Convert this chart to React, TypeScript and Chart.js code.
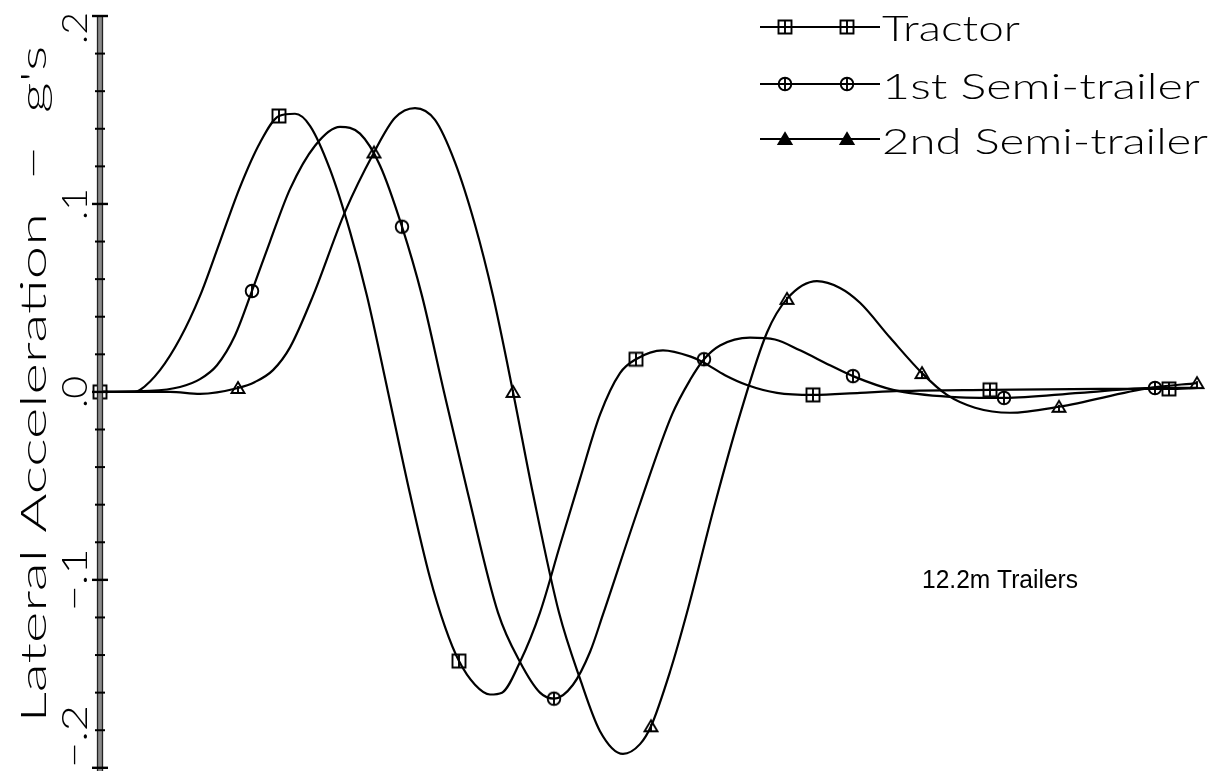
import React, { useEffect, useRef } from 'react';
import { Chart, registerables } from 'chart.js';

Chart.register(...registerables);

// ---------- data ----------
const seriesNames = ['Tractor', '1st Semi-trailer', '2nd Semi-trailer'];

const tractorX = [0, 0.35, 0.4, 0.6, 0.8, 1.0, 1.2, 1.4, 1.6, 1.79, 1.95, 2.1, 2.3, 2.5, 2.67, 2.88, 3.1, 3.3, 3.45, 3.59, 3.75, 3.9, 4.02, 4.2, 4.4, 4.6, 4.8, 5.0, 5.2, 5.36, 5.63, 5.9, 6.03, 6.25, 6.47, 6.77, 7.13, 7.6, 8.0, 8.9, 10.0, 10.69, 10.98];
const tractorY = [0, 0, 0.001, 0.0116, 0.0284, 0.0511, 0.08, 0.109, 0.1326, 0.1468, 0.148, 0.1416, 0.1184, 0.0853, 0.051, 0, -0.0542, -0.0989, -0.125, -0.1432, -0.1558, -0.161, -0.16, -0.1437, -0.1174, -0.0816, -0.0463, -0.0121, 0.01, 0.0174, 0.0221, 0.0189, 0.0158, 0.0089, 0.0037, -0.0005, -0.0016, -0.0005, 0.0005, 0.0011, 0.0016, 0.0016, 0.0021];
const tractorMarkX = [0, 1.79, 3.59, 5.36, 7.13, 8.9, 10.69];

const semi1X = [0, 0.5, 0.8, 1.0, 1.17, 1.35, 1.52, 1.7, 1.9, 2.15, 2.4, 2.6, 2.8, 3.02, 3.22, 3.44, 3.68, 3.98, 4.2, 4.4, 4.54, 4.73, 4.9, 5.03, 5.4, 5.72, 5.9, 6.04, 6.2, 6.5, 6.75, 7.0, 7.3, 7.53, 7.93, 8.5, 9.04, 9.8, 10.55, 10.98];
const semi1Y = [0, 0.0005, 0.0026, 0.0068, 0.0142, 0.03, 0.0537, 0.08, 0.1079, 0.131, 0.141, 0.1374, 0.1205, 0.0879, 0.0511, 0, -0.0542, -0.1174, -0.1437, -0.16, -0.1632, -0.1558, -0.1384, -0.1184, -0.0595, -0.0121, 0.0063, 0.0174, 0.0247, 0.0289, 0.0279, 0.0221, 0.0142, 0.0084, 0.0011, -0.0026, -0.0032, -0.0005, 0.0021, 0.0021];
const semi1MarkX = [1.52, 3.02, 4.54, 6.04, 7.53, 9.04, 10.55];

const semi2X = [0, 0.7, 1.0, 1.38, 1.55, 1.73, 1.9, 2.13, 2.45, 2.74, 2.95, 3.15, 3.35, 3.55, 3.75, 3.93, 4.13, 4.33, 4.59, 4.8, 5.0, 5.23, 5.4, 5.51, 5.7, 5.87, 6.15, 6.4, 6.67, 6.87, 7.17, 7.4, 7.6, 7.9, 8.22, 8.47, 8.75, 9.1, 9.59, 10.5, 10.97];
const semi2Y = [0, 0, -0.001, 0.0021, 0.0053, 0.0116, 0.0237, 0.0511, 0.0958, 0.1274, 0.1458, 0.151, 0.1447, 0.1221, 0.0889, 0.0511, 0, -0.0542, -0.1174, -0.1526, -0.1805, -0.1926, -0.1874, -0.1779, -0.1489, -0.1174, -0.0595, -0.0121, 0.0316, 0.0495, 0.0589, 0.0553, 0.0474, 0.0289, 0.01, -0.0016, -0.0084, -0.0111, -0.0079, 0.0021, 0.0047];
const semi2MarkX = [1.38, 2.74, 4.13, 5.51, 6.87, 8.22, 9.59, 10.97];

const yTickValues = [-0.2, -0.1, 0, 0.1, 0.2];
const yTickLabels = ['\u2212.2', '\u2212.1', '.0', '.1', '.2'];
const yTitle = "Lateral Acceleration  \u2212  g's";
const noteText = '12.2m Trailers';

// ---------- helpers ----------
type Kind = 'square' | 'circle' | 'triangle';

const THIN_FONT = '300 36px Lato, "Open Sans", "DejaVu Sans", sans-serif';

function makeMarker(kind: Kind, filled: boolean): HTMLCanvasElement {
  const c = document.createElement('canvas');
  c.width = 18;
  c.height = 18;
  const g = c.getContext('2d')!;
  g.strokeStyle = '#000';
  g.fillStyle = '#000';
  g.lineWidth = 1.9;
  g.beginPath();
  if (kind === 'square') {
    g.rect(2.5, 2.5, 13, 13);
    g.moveTo(9, 2.5);
    g.lineTo(9, 15.5);
  } else if (kind === 'circle') {
    g.arc(9, 9, 6.3, 0, Math.PI * 2);
    g.moveTo(9, 2.7);
    g.lineTo(9, 15.3);
  } else {
    g.moveTo(9, 3);
    g.lineTo(15.5, 14);
    g.lineTo(2.5, 14);
    g.closePath();
    if (filled) g.fill();
  }
  g.stroke();
  if (kind === 'triangle' && !filled) {
    g.beginPath();
    g.moveTo(9, 7);
    g.lineTo(9, 14);
    g.stroke();
  }
  return c;
}

function drawFit(
  ctx: CanvasRenderingContext2D,
  text: string,
  x: number,
  y: number,
  width: number,
  rotated: boolean,
  align: CanvasTextAlign
) {
  ctx.save();
  ctx.translate(x, y);
  if (rotated) ctx.rotate(-Math.PI / 2);
  const w = ctx.measureText(text).width;
  ctx.scale(width / w, 1);
  ctx.textAlign = align;
  ctx.textBaseline = 'alphabetic';
  ctx.fillText(text, 0, 0);
  ctx.restore();
}

const near = (list: number[], v: number) => list.some((m) => Math.abs(m - v) < 1e-6);

export default function App() {
  const ref = useRef<HTMLCanvasElement | null>(null);

  useEffect(() => {
    const canvas = ref.current;
    if (!canvas) return;

    const markers = {
      square: makeMarker('square', false),
      circle: makeMarker('circle', false),
      triangle: makeMarker('triangle', false),
      triangleFilled: makeMarker('triangle', true),
    };

    const build = (xs: number[], ys: number[]) => xs.map((x, i) => ({ x, y: ys[i] }));
    const specs = [
      { xs: tractorX, ys: tractorY, marks: tractorMarkX, img: markers.square, legendImg: markers.square },
      { xs: semi1X, ys: semi1Y, marks: semi1MarkX, img: markers.circle, legendImg: markers.circle },
      { xs: semi2X, ys: semi2Y, marks: semi2MarkX, img: markers.triangle, legendImg: markers.triangleFilled },
    ];

    const overlay = {
      id: 'overlay',
      afterDatasetsDraw(chart: any) {
        const ctx: CanvasRenderingContext2D = chart.ctx;
        const ys = chart.scales.y;
        const area = chart.chartArea;
        ctx.save();

        // ---- y axis (double line band) ----
        const ax = 100;
        ctx.fillStyle = '#8a8a8a';
        ctx.fillRect(ax - 2.5, area.top, 5, area.bottom - area.top + 10);
        ctx.strokeStyle = '#222';
        ctx.lineWidth = 1.3;
        ctx.beginPath();
        ctx.moveTo(ax - 2.5, area.top);
        ctx.lineTo(ax - 2.5, 800);
        ctx.moveTo(ax + 2.5, area.top);
        ctx.lineTo(ax + 2.5, 800);
        ctx.stroke();

        // ticks every 0.02, major every 0.1
        ctx.strokeStyle = '#000';
        for (let k = -10; k <= 10; k++) {
          const v = k * 0.02;
          const py = ys.getPixelForValue(v);
          if (py < area.top - 1 || py > 771) continue;
          const major = k % 5 === 0;
          ctx.lineWidth = major ? 2.4 : 2;
          ctx.beginPath();
          ctx.moveTo(ax - (major ? 8 : 5), py);
          ctx.lineTo(ax + (major ? 8 : 5), py);
          ctx.stroke();
        }

        // tick labels (rotated)
        ctx.fillStyle = '#000';
        ctx.font = THIN_FONT;
        yTickValues.forEach((v, i) => {
          const label = yTickLabels[i];
          const len = label.length === 2 ? 32 : 63;
          let cy = ys.getPixelForValue(v);
          cy = Math.max(12 + len / 2, Math.min(768 - len / 2, cy));
          drawFit(ctx, label, 87, cy, len, true, 'center');
        });

        // axis title
        ctx.font = THIN_FONT;
        drawFit(ctx, yTitle, 46, 384, 677, true, 'center');

        // ---- legend ----
        const rows = [
          { lineY: 27, baseY: 41, w: 138 },
          { lineY: 84, baseY: 99, w: 318 },
          { lineY: 139, baseY: 154, w: 326 },
        ];
        rows.forEach((r, i) => {
          ctx.strokeStyle = '#000';
          ctx.lineWidth = 2;
          ctx.beginPath();
          ctx.moveTo(760, r.lineY);
          ctx.lineTo(880, r.lineY);
          ctx.stroke();
          const img = specs[i].legendImg;
          [785, 847].forEach((mx) => {
            ctx.drawImage(img, mx - img.width / 2, r.lineY - img.height / 2);
          });
          ctx.fillStyle = '#000';
          ctx.font = THIN_FONT;
          drawFit(ctx, seriesNames[i], 882, r.baseY, r.w, false, 'left');
        });

        // ---- note ----
        ctx.font = '25px "Liberation Sans", Arial, sans-serif';
        ctx.fillStyle = '#000';
        ctx.strokeStyle = '#000';
        ctx.lineWidth = 0.5;
        drawFit(ctx, noteText, 922, 588, 156, false, 'left');

        ctx.restore();
      },
    };

    const chart = new Chart(canvas, {
      type: 'line',
      data: {
        datasets: specs.map((s, i) => ({
          label: seriesNames[i],
          data: build(s.xs, s.ys),
          borderColor: '#000',
          borderWidth: 2.2,
          backgroundColor: 'transparent',
          fill: false,
          cubicInterpolationMode: 'monotone' as const,
          pointStyle: s.img,
          pointRadius: (c: any) => (c.raw && near(s.marks, c.raw.x) ? 7 : 0),
          pointHoverRadius: 0,
          clip: 20,
        })),
      },
      options: {
        animation: false,
        responsive: false,
        maintainAspectRatio: false,
        events: [],
        layout: { padding: { left: 100, right: 12, top: 16, bottom: 0 } },
        plugins: {
          legend: { display: false },
          tooltip: { enabled: false },
          title: { display: false },
        },
        scales: {
          x: { type: 'linear', min: 0, max: 11.05, display: false },
          y: { type: 'linear', min: -0.1968, max: 0.2, display: false },
        },
      },
      plugins: [overlay],
    });

    return () => chart.destroy();
  }, []);

  return (
    <div style={{ position: 'fixed', left: 0, top: 0, width: 1217, height: 771, background: '#fff', overflow: 'hidden' }}>
      <canvas ref={ref} width={1217} height={771} style={{ width: 1217, height: 771, display: 'block' }} />
    </div>
  );
}
